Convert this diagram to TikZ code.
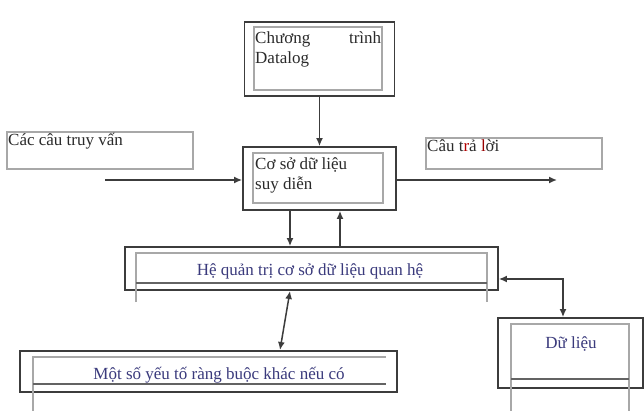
\documentclass[tikz,border=0pt]{standalone}
\usepackage{fontspec}
\setmainfont{Liberation Serif}
\usetikzlibrary{arrows.meta}
\definecolor{navy}{HTML}{3A3A7C}
\definecolor{ink}{HTML}{2A2A2A}
\definecolor{frame}{HTML}{3C3C3C}
\definecolor{inner}{HTML}{A8A8A8}
\begin{document}
\begin{tikzpicture}[x=1pt,y=-1pt,
  outerbox/.style={draw=frame,line width=1.8pt,minimum width=#1,inner sep=0pt},
  thinbox/.style={draw=inner,line width=1.3pt},
  innerln/.style={draw=inner,line width=1.3pt},
  darkln/.style={draw=frame!80,line width=1.8pt},
  txt/.style={font=\fontsize{17}{20}\selectfont,text=ink,inner sep=0pt,align=left},
  ntxt/.style={font=\fontsize{17}{20}\selectfont,text=navy,inner sep=0pt},
  arr/.style={draw=frame,line width=1.5pt,-{Latex[length=8pt,width=7pt]}},
  darr/.style={draw=frame,line width=1.5pt,{Latex[length=8pt,width=7pt]}-{Latex[length=8pt,width=7pt]}}
]
\useasboundingbox (0,0) rectangle (644,411);
\fill[white] (0,0) rectangle (644,411);

% Datalog box
\node[outerbox=150pt,minimum height=74pt] (dl) at (319.5,59) {};
\draw[thinbox] (254,27) rectangle (382,90);
\node[txt,anchor=north west,text width=126pt] (dlt) at (255,31) {Chương\hfill trình\\Datalog};

% Query box
\node[draw=inner,line width=1.3pt,minimum width=186pt,minimum height=37pt,inner sep=0pt] (qb) at (100,150.5) {};
\node[txt,anchor=north west] (qt) at (8,133) {Các câu truy vấn};

% Deductive DB box
\node[outerbox=153pt,minimum height=63pt] (cs) at (319.5,178.5) {};
\draw[thinbox] (253,153) rectangle (383,203);
\node[txt,anchor=north west] (cst) at (255,157) {Cơ sở dữ liệu\\suy diễn};

% Answer box
\node[draw=inner,line width=1.3pt,minimum width=176pt,minimum height=31pt,inner sep=0pt] (ab) at (514,153.5) {};
\node[txt,anchor=north west] (at) at (427,139) {Câu t\textcolor{red!70!black}{r}ả \textcolor{red!60!black}{l}ời};

% RDBMS box
\node[outerbox=373pt,minimum height=43pt] (he) at (311.5,268.5) {};
\draw[innerln] (136,302) -- (136,253) -- (487,253) -- (487,302);
\draw[darkln] (136,283) -- (487,283);
\node[ntxt] (het) at (310,271) {Hệ quản trị cơ sở dữ liệu quan hệ};

% Constraints box
\node[outerbox=377pt,minimum height=41pt] (ms) at (208.5,371.5) {};
\draw[innerln] (33,411) -- (33,357) -- (386,357);
\draw[darkln] (33,384) -- (386,384);
\node[ntxt] (mst) at (219,375) {Một số yếu tố ràng buộc khác nếu có};

% Data box
\node[outerbox=145pt,minimum height=70pt] (du) at (570.5,353) {};
\draw[innerln] (511,411) -- (511,324) -- (629,324) -- (629,411);
\draw[darkln] (511,379) -- (629,379);
\node[ntxt] (dut) at (571,344) {Dữ liệu};

% connector helper points
\coordinate (qs) at (105,180);
\coordinate (ae) at (557,180);
\coordinate (xd) at (290,0);
\coordinate (xu) at (340,0);
\coordinate (dbtop) at (290,291);
\coordinate (dbbot) at (280,350);
\coordinate (yr) at (0,279);
\coordinate (corner) at (563,279);

% connectors
\draw[arr] (dl.south) -- (dl.south |- cs.north);
\draw[arr] (qs) -- (qs -| cs.west);
\draw[arr] (cs.east |- ae) -- (ae);
\draw[arr] (cs.south -| xd) -- (he.north -| xd);
\draw[arr] (he.north -| xu) -- (cs.south -| xu);
\draw[darr] (dbtop) -- (dbbot);
\draw[darr] (he.east |- yr) -- (corner) -- (du.north -| corner);
\end{tikzpicture}
\end{document}
